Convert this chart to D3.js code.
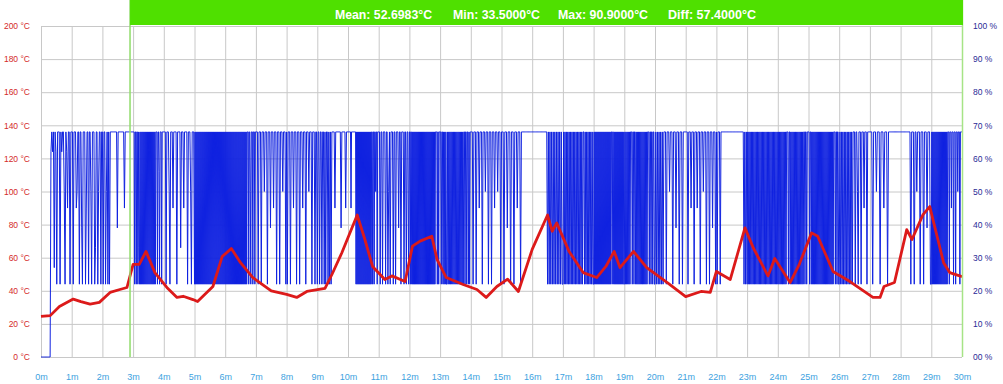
<!DOCTYPE html>
<html>
<head>
<meta charset="utf-8">
<script src="https://cdn.jsdelivr.net/npm/d3@7"></script>
<style>
  body { margin: 0; background: #fff; }
  svg { display: block; font-family: "Liberation Sans", Arial, sans-serif; }
</style>
</head>
<body>
<svg id="chart" width="1003" height="384"></svg>
<script>
// temperature trace (minutes, °C)
const tempTimes = [0, 0.3, 0.6, 1.05, 1.3, 1.6, 1.9, 2.25, 2.57, 2.8, 3.0, 3.2, 3.42, 3.71, 4.1, 4.43, 4.63, 4.95, 5.1,
  5.6, 5.9, 6.2, 6.5, 6.9, 7.5, 8.0, 8.33, 8.66, 9.25, 9.48, 9.8, 10.3, 10.55, 10.8, 11.2, 11.43, 11.86, 12.1, 12.35,
  12.73, 12.9, 13.2, 13.75, 14.2, 14.5, 14.85, 15.2, 15.55, 16.0, 16.5, 16.65, 16.8, 17.2, 17.66, 18.1, 18.4, 18.67,
  18.86, 19.3, 19.73, 20.4, 21.0, 21.5, 21.8, 22.0, 22.45, 22.93, 23.2, 23.68, 23.9, 24.4, 24.7, 25.1, 25.3, 25.8,
  26.35, 27.1, 27.33, 27.46, 27.8, 28.2, 28.37, 28.73, 28.95, 29.4, 29.6, 30.0];
const tempValues = [24.5, 25, 30.5, 35, 33.5, 32, 33, 39, 40.8, 42, 56, 56, 63.8, 51, 42, 36, 36.7, 34.7, 33.5,
  42.6, 60.7, 65.5, 57, 48, 40, 37.8, 36, 39.6, 41.4, 50, 63, 85.8, 71, 54.7, 46.8, 49, 45.6, 67, 70,
  73, 59, 48, 43.8, 40.8, 36, 42.6, 47, 39.6, 65, 85.8, 76, 81, 63.8, 51, 48, 54.7, 63.8,
  54, 63.8, 54, 45, 36.5, 39.6, 39, 51.7, 46.8, 78, 66, 49, 59.5, 45, 56, 75, 73, 51.7,
  45.6, 36, 36, 42.6, 45, 77, 71, 86, 90.9, 57, 51, 48.6];

// heater duty: one string per minute, each character one sample spread evenly over that minute
const dutyLevels = { "0": 0, "1": 22, "2": 27, "3": 33, "4": 39, "5": 45, "6": 50, "7": 56, "8": 62, "9": 68 };
const dutyByMinute = [
  "0000000000008989298199919899619859919",
  "9919995699199419991599199619991399169919",
  "919916919199999999949999999959999999999",
  "9991991991931919191919191919191919191919191999199719991999",
  "9991999619995999919999399959999199961999",
  "191919191919191919191919191919191919191919191919191919191919",
  "191919191919191919191919191919191919191919199919961999199919",
  "9991999199969991999499959991999199969991",
  "9199919995999199919995999199969991999199",
  "1991991991919919191999959999999499999599",
  "9999995999999999191919191919191919191919191919199199199699199",
  "9919919991991691999199199949919991991991",
  "991991919191919191919191919191919191919191919191919191919999199199",
  "99199191919119191919191919191919191919191991991991919",
  "9991999199959991999699919991999599969991",
  "9991999499919991999599919999999999999",
  "99999999999999999991919191919191919191",
  "19191919191919191919191919191991919191919191",
  "1919191919191919191919191919191919199199191919191919191919191",
  "191919191919991991991919191919191919191919991991991991",
  "19191919191999199969991999499919991999",
  "9991999599919995999199969991999199949991",
  "9199919999999999999999999999999999991919",
  "19191919191919191919191919191919191919191919191919",
  "1919191919191919991991919191919191919191919199199199",
  "99199191919191919191919191919191919191919191919991991991",
  "191919191919191919199919961999199959991999",
  "999199969991999599919999999999999",
  "999999999999199919969991999199949991",
  "1919191919191919191919191919191999199959991999199969991999",
  "9"
];

const tempTicks = [0, 20, 40, 60, 80, 100, 120, 140, 160, 180, 200];
const pctTicks = [0, 10, 20, 30, 40, 50, 60, 70, 80, 90, 100];
const minuteTicks = [0, 1, 2, 3, 4, 5, 6, 7, 8, 9, 10, 11, 12, 13, 14, 15, 16, 17, 18, 19, 20,
  21, 22, 23, 24, 25, 26, 27, 28, 29, 30];
const stats = ["Mean: 52.6983°C", "Min: 33.5000°C", "Max: 90.9000°C", "Diff: 57.4000°C"];
const cursorMinute = 2.9;

const plotLeft = 41, plotRight = 962, plotTop = 26, plotBottom = 357;
const svg = d3.select("#chart");

const x = d3.scaleLinear().domain([0, 30]).range([plotLeft, plotRight]);
const yT = d3.scaleLinear().domain([0, 200]).range([plotBottom, plotTop]);
const yP = d3.scaleLinear().domain([0, 100]).range([plotBottom, plotTop]);

// grid
svg.append("g")
  .attr("transform", `translate(0,${plotBottom})`)
  .call(d3.axisBottom(x).tickValues(minuteTicks).tickSize(-(plotBottom - plotTop)).tickFormat(""))
  .call(g => g.select(".domain").remove())
  .call(g => g.selectAll("line").attr("stroke", "#c8c8c8"));
svg.append("g")
  .attr("transform", `translate(${plotLeft},0)`)
  .call(d3.axisLeft(yT).tickValues(tempTicks).tickSize(-(plotRight - plotLeft)).tickFormat(""))
  .call(g => g.select(".domain").remove())
  .call(g => g.selectAll("line").attr("stroke", "#c8c8c8"));

// duty (blue)
const duty = [];
dutyByMinute.forEach((s, m) => {
  s.split("").forEach((c, j) => duty.push({ t: m + j / s.length, v: dutyLevels[c] }));
});
svg.append("path")
  .datum(duty)
  .attr("fill", "none")
  .attr("stroke", "#1022e0")
  .attr("stroke-width", 1)
  .attr("d", d3.line().x(d => x(d.t)).y(d => yP(d.v)));

// temperature (red)
const temp = tempTimes.map((t, i) => ({ t, v: tempValues[i] }));
svg.append("path")
  .datum(temp)
  .attr("fill", "none")
  .attr("stroke", "#dc1a1a")
  .attr("stroke-width", 2.8)
  .attr("stroke-linejoin", "round")
  .attr("d", d3.line().x(d => x(d.t)).y(d => yT(d.v)));

// cursor + right edge
svg.append("line").attr("x1", x(cursorMinute)).attr("x2", x(cursorMinute)).attr("y1", 0).attr("y2", plotBottom)
  .attr("stroke", "#8fdc6a").attr("stroke-width", 1.5);
svg.append("line").attr("x1", plotRight + 0.5).attr("x2", plotRight + 0.5).attr("y1", 0).attr("y2", plotBottom)
  .attr("stroke", "#a6e486").attr("stroke-width", 1.5);

// stats banner
svg.append("rect").attr("x", x(cursorMinute)).attr("y", 0)
  .attr("width", plotRight - x(cursorMinute) + 1).attr("height", plotTop - 1).attr("fill", "#4fe000");
const statX = [335, 453, 558, 668];
const statW = [97, 87, 90, 88];
svg.append("g").selectAll("text").data(stats).join("text")
  .attr("x", (d, i) => statX[i]).attr("y", 18.5)
  .attr("textLength", (d, i) => statW[i]).attr("lengthAdjust", "spacingAndGlyphs")
  .attr("fill", "#fff").attr("font-size", 13.5).attr("font-weight", "bold")
  .text(d => d);

// axes labels
svg.append("g")
  .attr("transform", `translate(${plotLeft - 8},0)`)
  .call(d3.axisLeft(yT).tickValues(tempTicks).tickSize(0).tickFormat(d => `${d} °C`))
  .call(g => g.select(".domain").remove())
  .call(g => g.selectAll("text").attr("fill", "#d42a2a").attr("font-size", 8.5)
    .attr("font-family", "'Liberation Sans', Arial"));
svg.append("g")
  .attr("transform", `translate(${plotRight + 8},0)`)
  .call(d3.axisRight(yP).tickValues(pctTicks).tickSize(0).tickFormat(d => `${d === 0 ? "00" : d} %`))
  .call(g => g.select(".domain").remove())
  .call(g => g.selectAll("text").attr("fill", "#2a2a96").attr("font-size", 8.5)
    .attr("font-family", "'Liberation Sans', Arial"));
svg.append("g")
  .attr("transform", `translate(0,${plotBottom + 14})`)
  .call(d3.axisBottom(x).tickValues(minuteTicks).tickSize(0).tickFormat(d => `${d}m`))
  .call(g => g.select(".domain").remove())
  .call(g => g.selectAll("text").attr("fill", "#3da2e0").attr("font-size", 9)
    .attr("font-family", "'Liberation Sans', Arial"));
</script>
</body>
</html>
